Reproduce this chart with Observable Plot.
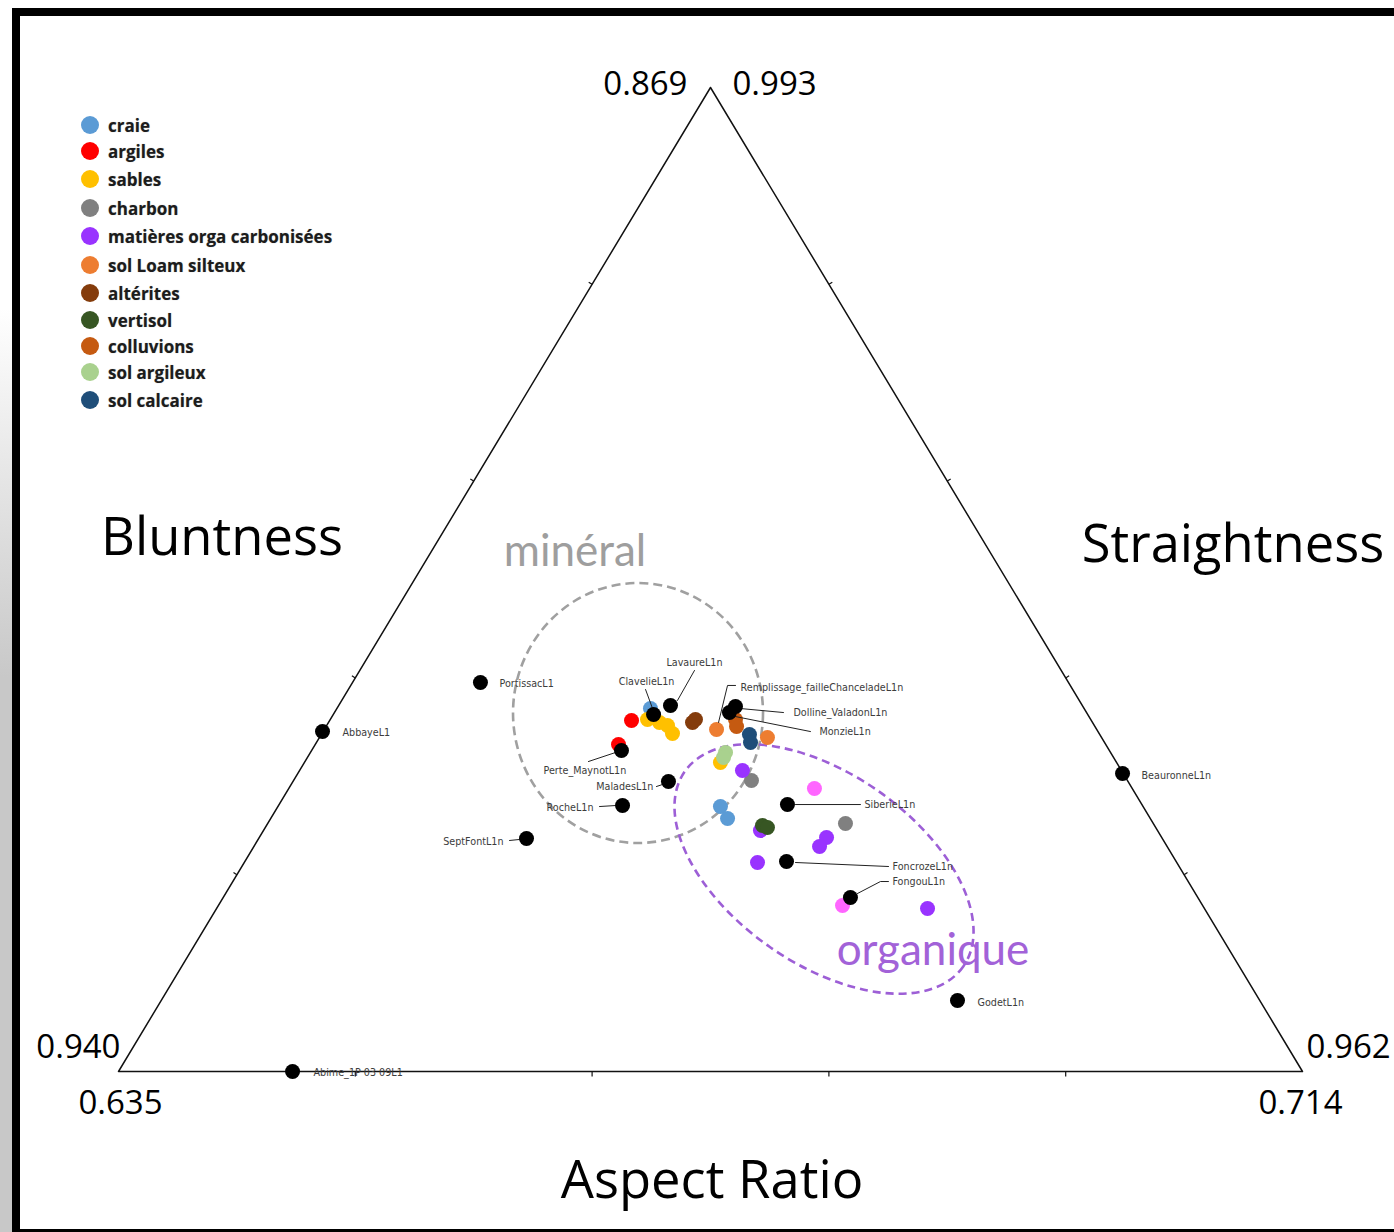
<!DOCTYPE html>
<html>
<head>
<meta charset="utf-8">
<script src="https://cdn.jsdelivr.net/npm/d3@7"></script>
<script src="https://cdn.jsdelivr.net/npm/@observablehq/plot@0.6"></script>
<style>
  body { margin: 0; background: #fff; }
  #wrap { position: relative; width: 1394px; height: 1232px; overflow: hidden; background: #fff; }
  #wrap svg { position: absolute; left: 0; top: 0; }
  .abs { position: absolute; white-space: nowrap; }
  .center { transform: translate(-50%, -50%); }
  .title { font-family: "Open Sans", sans-serif; font-size: 52.5px; color: #000; }
  .zone { font-family: "Lato", sans-serif; font-size: 44px; }
  .leg-dot { position: absolute; width: 18px; height: 18px; border-radius: 50%; }
  .leg-txt { position: absolute; font-family: "Open Sans", sans-serif; font-weight: 700; font-size: 17px; color: #1c1c1c; transform: translateY(-50%); text-shadow: 0 0 1px rgba(0,0,0,0.35); }
  .frame { position: absolute; background: #000; z-index: 5; }
</style>
</head>
<body>
<div id="wrap"></div>
<script>
// ---------------- DATA ----------------
// positions are fractions inside the triangle: x along the Aspect Ratio base (0 → 1), y as fraction of the height (0 → 1)
const categories = ["craie", "argiles", "sables", "charbon", "matières orga carbonisées", "sol Loam silteux",
  "altérites", "vertisol", "colluvions", "sol argileux", "sol calcaire"];
const categoryColors = ["#5B9BD5", "#FF0000", "#FFC000", "#808080", "#9933FF", "#ED7D31",
  "#843C0C", "#375623", "#C55A11", "#A9D18E", "#1F4E79"];
const otherCategory = "autre";
const otherColor = "#FF66FF";

const craie = [[0.4493, 0.3689], [0.5084, 0.2693], [0.5144, 0.2571]];
const argiles = [[0.4333, 0.3567], [0.4223, 0.3323]];
const sables = [[0.4468, 0.3577], [0.4569, 0.3547], [0.4637, 0.3516], [0.4679, 0.3435], [0.5084, 0.3140]];
const charbon = [[0.5346, 0.2957], [0.6140, 0.2520]];
const matieres = [[0.5270, 0.3059], [0.5422, 0.2449], [0.5980, 0.2378], [0.5921, 0.2287], [0.5397, 0.2124], [0.6833, 0.1657]];
const solLoam = [[0.5051, 0.3476], [0.5481, 0.3394]];
const alterites = [[0.4848, 0.3547], [0.4873, 0.3577]];
const vertisol = [[0.5439, 0.2500], [0.5481, 0.2480]];
const colluvions = [[0.5211, 0.3577], [0.5220, 0.3506]];
const solArgileux = [[0.5127, 0.3242], [0.5110, 0.3191]];
const solCalcaire = [[0.5329, 0.3425], [0.5338, 0.3343]];
const autres = [[0.5878, 0.2876], [0.6115, 0.1687]];

const siteNames = ["PortissacL1", "AbbayeL1", "SeptFontL1n", "RocheL1n", "MaladesL1n", "Perte_MaynotL1n",
  "ClavelieL1n", "LavaureL1n", "Dolline_ValadonL1n", "MonzieL1n", "SiberieL1n", "FoncrozeL1n",
  "FongouL1n", "GodetL1n", "BeauronneL1n", "Abime_1P 03 09L1"];
const siteX = [0.3057, 0.1723, 0.3446, 0.4257, 0.4645, 0.4248, 0.4519, 0.4662, 0.5211, 0.5160, 0.5650, 0.5642, 0.6182, 0.7086, 0.8480, 0.1470];
const siteY = [0.3953, 0.3455, 0.2368, 0.2703, 0.2947, 0.3262, 0.3628, 0.3720, 0.3709, 0.3648, 0.2713, 0.2134, 0.1768, 0.0722, 0.3028, 0.0000];

const calloutName = "Remplissage_failleChanceladeL1n"; // points at the first "sol Loam silteux" sample

const axisTitles = ["Bluntness", "Straightness", "Aspect Ratio"];
const cornerTickLabels = ["0.869", "0.993", "0.940", "0.635", "0.962", "0.714"];
const sideTicks = [0.2, 0.4, 0.6, 0.8];

const zoneNames = ["minéral", "organique"];
const zoneCenterX = [0.4392, 0.5963];
const zoneCenterY = [0.3638, 0.2053];

// ---------------- LAYOUT ----------------
const W = 1394, H = 1232, mL = 118, mR = 92, mT = 87, mB = 161;
const kx = W - mL - mR, ky = H - mT - mB;

// label layout: [anchor, text offset px, leader polyline offsets px]
const labelLayout = {
  "PortissacL1": ["start", [19, 1], []],
  "AbbayeL1": ["start", [20, 1], []],
  "SeptFontL1n": ["end", [-23, 3], [[-17, 2], [-7, 1]]],
  "RocheL1n": ["end", [-29, 2], [[-23, 1], [-7, 0]]],
  "MaladesL1n": ["end", [-15, 5], [[-12, 5], [-6, 3]]],
  "Perte_MaynotL1n": ["start", [-78, 20], [[-33, 11], [-6, 2]]],
  "ClavelieL1n": ["middle", [-7, -33], [[-8, -25], [-1, -6]]],
  "LavaureL1n": ["middle", [24, -43], [[24, -35], [7, -5]]],
  "Dolline_ValadonL1n": ["start", [58, 6], [[5, 2], [48, 6]]],
  "MonzieL1n": ["start", [90, 19], [[6, 4], [81, 19]]],
  "SiberieL1n": ["start", [77, 0], [[8, 0], [73, 0]]],
  "FoncrozeL1n": ["start", [106, 5], [[9, 1], [102, 5]]],
  "FongouL1n": ["start", [42, -16], [[7, -4], [30, -16], [38, -16]]],
  "GodetL1n": ["start", [20, 2], []],
  "BeauronneL1n": ["start", [19, 2], []],
  "Abime_1P 03 09L1": ["start", [21, 1], []],
  "Remplissage_failleChanceladeL1n": ["start", [24, -42], [[19, -44], [11, -44], [2, -7]]]
};

// ---------------- BUILD TABLES ----------------
const seriesByCat = [craie, argiles, sables, charbon, matieres, solLoam, alterites, vertisol, colluvions, solArgileux, solCalcaire];
const samples = [];
seriesByCat.forEach((arr, i) => arr.forEach(([x, y]) => samples.push({cat: categories[i], x, y})));
autres.forEach(([x, y]) => samples.push({cat: otherCategory, x, y}));

const sites = siteNames.map((name, i) => ({name, x: siteX[i], y: siteY[i]}));
const anchors = [...sites, {name: calloutName, x: solLoam[0][0], y: solLoam[0][1]}];

const px2x = (x, ox) => x + ox / kx;
const px2y = (y, oy) => y - oy / ky;

const labels = anchors.map(a => {
  const [anchor, [ox, oy]] = labelLayout[a.name];
  return {name: a.name, anchor, x: px2x(a.x, ox), y: px2y(a.y, oy)};
});
const leaders = [];
anchors.forEach(a => {
  const pts = labelLayout[a.name][2];
  pts.forEach(([ox, oy]) => leaders.push({name: a.name, x: px2x(a.x, ox), y: px2y(a.y, oy)}));
});

const triangle = [{x: 0, y: 0}, {x: 0.5, y: 1}, {x: 1, y: 0}, {x: 0, y: 0}];
const ticks = [];
sideTicks.forEach(f => {
  ticks.push({x1: f, y1: 0, x2: f, y2: px2y(0, 5)});
  ticks.push({x1: 0.5 * f, y1: f, x2: px2x(0.5 * f, -3.4), y2: px2y(f, -2.1)});
  ticks.push({x1: 1 - 0.5 * f, y1: f, x2: px2x(1 - 0.5 * f, 3.4), y2: px2y(f, -2.1)});
});

const vertices = [[0.5, 1], [0.5, 1], [0, 0], [0, 0], [1, 0], [1, 0]];
const cornerLayout = [["end", -23, -3], ["start", 22, -3], ["end", 2, -24], ["middle", 2, 32], ["start", 4, -24], ["middle", -2, 32]];
const corners = cornerTickLabels.map((t, i) => ({
  t, anchor: cornerLayout[i][0],
  x: px2x(vertices[i][0], cornerLayout[i][1]),
  y: px2y(vertices[i][1], cornerLayout[i][2])
}));

// ---------------- PLOT ----------------
const plot = Plot.plot({
  width: W, height: H,
  marginLeft: mL, marginRight: mR, marginTop: mT, marginBottom: mB,
  style: {background: "transparent", overflow: "visible"},
  x: {domain: [0, 1], axis: null},
  y: {domain: [0, 1], axis: null},
  color: {domain: [...categories, otherCategory], range: [...categoryColors, otherColor]},
  marks: [
    Plot.line(triangle, {x: "x", y: "y", stroke: "#111", strokeWidth: 1.5}),
    Plot.link(ticks, {x1: "x1", y1: "y1", x2: "x2", y2: "y2", stroke: "#111", strokeWidth: 1.2}),
    Plot.dot(samples, {x: "x", y: "y", fill: "cat", r: 7.5}),
    Plot.line(leaders, {x: "x", y: "y", z: "name", stroke: "#222", strokeWidth: 1}),
    Plot.dot(sites, {x: "x", y: "y", fill: "#000", r: 7.5}),
    ...["start", "middle", "end"].map(a => Plot.text(labels.filter(d => d.anchor === a), {
      x: "x", y: "y", text: "name", textAnchor: a, fill: "#3c3c3c",
      fontSize: 9.6, fontFamily: "DejaVu Sans"
    })),
    ...["start", "middle", "end"].map(a => Plot.text(corners.filter(d => d.anchor === a), {
      x: "x", y: "y", text: "t", textAnchor: a, fill: "#000",
      fontSize: 33, fontFamily: "Open Sans"
    }))
  ]
});

// dashed zones, drawn beneath the dots using the plot's own scales
const sx = plot.scale("x"), sy = plot.scale("y");
const zoneStyle = [
  {rx: 125, ry: 130, rot: 0, stroke: "#a0a0a0", dash: "9,5"},
  {rx: 170, ry: 95, rot: 35, stroke: "#9d5fd6", dash: "8,5"}
];
const firstDot = plot.querySelector('g[aria-label="dot"]');
zoneNames.forEach((z, i) => {
  const cx = sx.apply(zoneCenterX[i]), cy = sy.apply(zoneCenterY[i]);
  const s = zoneStyle[i];
  const el = document.createElementNS("http://www.w3.org/2000/svg", "ellipse");
  el.setAttribute("cx", cx); el.setAttribute("cy", cy);
  el.setAttribute("rx", s.rx); el.setAttribute("ry", s.ry);
  el.setAttribute("transform", `rotate(${s.rot} ${cx} ${cy})`);
  el.setAttribute("fill", "none"); el.setAttribute("stroke", s.stroke);
  el.setAttribute("stroke-width", 2.6); el.setAttribute("stroke-dasharray", s.dash);
  plot.insertBefore(el, firstDot);
});

const wrap = document.getElementById("wrap");
wrap.appendChild(plot);

// frame
const gray = document.createElement("div");
gray.style.cssText = "position:absolute;left:0;top:0;width:12px;height:1232px;background:linear-gradient(#fff 0%, #fff 25%, #c8c8c8 55%, #c8c8c8 100%);";
wrap.appendChild(gray);
[[12, 8, 1382, 8], [12, 8, 8, 1224], [12, 1229, 1382, 3]].forEach(([l, t, w, h]) => {
  const d = document.createElement("div");
  d.className = "frame";
  d.style.left = l + "px"; d.style.top = t + "px"; d.style.width = w + "px"; d.style.height = h + "px";
  wrap.appendChild(d);
});

// axis titles
const titlePos = [[222, 534], [1233, 541], [712, 1177]];
axisTitles.forEach((t, i) => {
  const d = document.createElement("div");
  d.className = "abs center title";
  d.textContent = t;
  d.style.left = titlePos[i][0] + "px"; d.style.top = titlePos[i][1] + "px";
  wrap.appendChild(d);
});

// zone labels
const zoneLabelPos = [[575, 549, "#9e9e9e"], [933, 948, "#a262d8"]];
zoneNames.forEach((z, i) => {
  const d = document.createElement("div");
  d.className = "abs center zone";
  d.textContent = z;
  d.style.left = zoneLabelPos[i][0] + "px"; d.style.top = zoneLabelPos[i][1] + "px";
  d.style.color = zoneLabelPos[i][2];
  wrap.appendChild(d);
});

// legend
const legendRows = [125, 151, 179, 208, 236, 265, 293, 320, 346, 372, 400];
categories.forEach((c, i) => {
  const dot = document.createElement("div");
  dot.className = "leg-dot";
  dot.style.left = "81px"; dot.style.top = (legendRows[i] - 9) + "px";
  dot.style.background = categoryColors[i];
  wrap.appendChild(dot);
  const t = document.createElement("div");
  t.className = "leg-txt";
  t.style.left = "108px"; t.style.top = legendRows[i] + "px";
  t.textContent = c;
  wrap.appendChild(t);
});
</script>
</body>
</html>
